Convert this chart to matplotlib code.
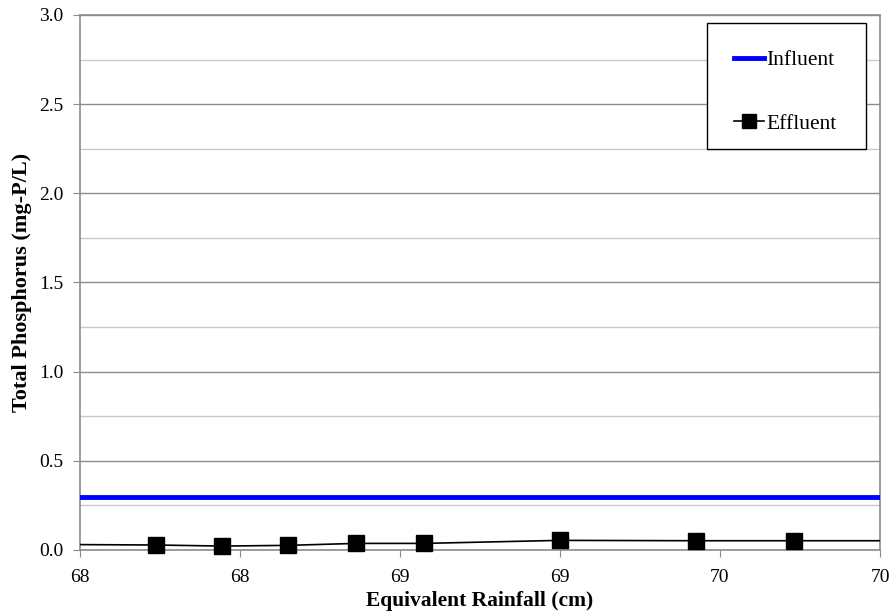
import matplotlib
matplotlib.use("Agg")
import matplotlib.pyplot as plt
from matplotlib.patches import Rectangle
from matplotlib.ticker import MultipleLocator, FuncFormatter

# Data
rain_eff = [67.85, 68.19, 68.355, 68.52, 68.69, 68.86, 69.20, 69.54, 69.785, 70.15]
tp_eff = [0.032, 0.028, 0.022, 0.026, 0.037, 0.037, 0.054, 0.052, 0.052, 0.052]
marker_rain = [68.19, 68.355, 68.52, 68.69, 68.86, 69.20, 69.54, 69.785]
marker_tp = [0.028, 0.022, 0.026, 0.037, 0.037, 0.054, 0.052, 0.052]
rain_inf = [67.85, 68.19, 69.785, 70.15]
tp_inf = [0.30, 0.30, 0.30, 0.30]

plt.rcParams['font.family'] = ['Liberation Serif', 'DejaVu Serif']

W, H = 893, 614
fig = plt.figure(figsize=(W/100, H/100), dpi=100)
ax = fig.add_axes([80/W, 1-550/H, 800/W, 535/H])

ax.set_xlim(68.0, 70.0)
ax.set_ylim(0, 3.0)
ax.xaxis.set_major_locator(MultipleLocator(0.4))
ax.xaxis.set_major_formatter(FuncFormatter(lambda v, p: f"{v:.0f}"))
ax.yaxis.set_major_locator(MultipleLocator(0.5))
ax.yaxis.set_minor_locator(MultipleLocator(0.25))
ax.yaxis.set_major_formatter(FuncFormatter(lambda v, p: f"{v:.1f}"))

ax.grid(True, which='major', axis='y', color='#8c8c8c', linewidth=1.0, zorder=0)
ax.grid(True, which='minor', axis='y', color='#c8c8c8', linewidth=1.0, zorder=0)
ax.tick_params(which='minor', length=0)
ax.tick_params(which='major', direction='out', length=5, color='#8c8c8c',
               labelsize=14, labelcolor='black')
ax.tick_params(axis='x', pad=9)
ax.tick_params(axis='y', pad=7)

for s in ['left', 'bottom', 'right', 'top']:
    ax.spines[s].set_color('#8c8c8c')
    ax.spines[s].set_linewidth(1.2)

ax.plot(rain_inf, tp_inf, color='#0000ff', linewidth=3.5, label='Influent',
        zorder=3, clip_on=True)
ax.plot(rain_eff, tp_eff, color='black', linewidth=1.2, zorder=4, clip_on=True)
ax.plot(marker_rain, marker_tp, linestyle='none', marker='s', markersize=11,
        color='black', zorder=5, clip_on=False)
# legend proxy for effluent
ax.plot([], [], color='black', linewidth=1.2, marker='s', markersize=10,
        label='Effluent')

ax.set_xlabel('Equivalent Rainfall (cm)', fontsize=15.5, fontweight='bold', labelpad=3)
ax.set_ylabel('Total Phosphorus (mg-P/L)', fontsize=16, fontweight='bold', labelpad=5)

# legend frame
frame = Rectangle((707/W, 1-149/H), 159/W, 126/H, transform=fig.transFigure,
                  facecolor='white', edgecolor='black', linewidth=1.0,
                  zorder=10, clip_on=False)
ax.add_patch(frame)
leg = ax.legend(loc='upper left', bbox_to_anchor=(734/W, 1-50/H),
                bbox_transform=fig.transFigure, fontsize=15.5, frameon=False,
                handlelength=1.4, handletextpad=0.1, labelspacing=2.03,
                borderpad=0, borderaxespad=0)
leg.set_zorder(11)

fig.savefig('out.png', dpi=100)
